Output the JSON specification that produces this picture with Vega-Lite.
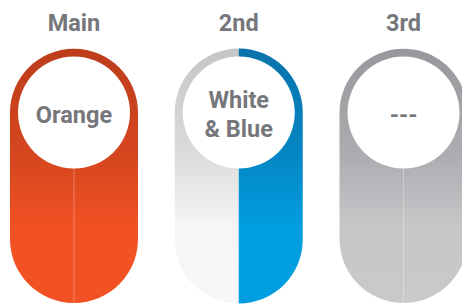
{
  "$schema": "https://vega.github.io/schema/vega-lite/v6.json",
  "width": 462,
  "height": 304,
  "autosize": {"type": "fit", "contains": "padding"},
  "padding": 0,
  "background": "white",
  "config": {"view": {"stroke": null}},
  "datasets": {
    "pills": [
      {"rank": "Main", "label": "Orange", "kind": "solid", "colour": "orange"},
      {"rank": "2nd", "label": "White\n& Blue", "kind": "split", "colour": "whiteblue"},
      {"rank": "3rd", "label": "---", "kind": "solid", "colour": "gray"}
    ],
    "halves": [
      {"rank": "2nd", "half": "left", "colour": "white"},
      {"rank": "2nd", "half": "right", "colour": "blue"}
    ]
  },
  "data": {"name": "pills"},
  "encoding": {
    "x": {
      "field": "rank",
      "type": "nominal",
      "sort": ["Main", "2nd", "3rd"],
      "scale": {"range": [-8.4, 485.9], "paddingInner": 0.223, "paddingOuter": 0.1115},
      "axis": null
    }
  },
  "layer": [
    {
      "transform": [{"filter": "datum.colour === 'orange'"}],
      "mark": {
        "type": "bar",
        "cornerRadius": 64,
        "color": {
          "gradient": "linear", "x1": 0, "y1": 0, "x2": 0, "y2": 1,
          "stops": [
            {"offset": 0, "color": "#bd3d1b"},
            {"offset": 0.42, "color": "#d5461f"},
            {"offset": 0.7, "color": "#f15123"},
            {"offset": 1, "color": "#f15123"}
          ]
        }
      },
      "encoding": {
        "y": {"datum": 100, "type": "quantitative", "scale": {"domain": [0, 119.2], "nice": false, "zero": false}, "axis": null},
        "y2": {"datum": 0}
      }
    },
    {
      "transform": [{"filter": "datum.colour === 'gray'"}],
      "mark": {
        "type": "bar",
        "cornerRadius": 64,
        "color": {
          "gradient": "linear", "x1": 0, "y1": 0, "x2": 0, "y2": 1,
          "stops": [
            {"offset": 0, "color": "#97989c"},
            {"offset": 0.42, "color": "#acadb0"},
            {"offset": 0.7, "color": "#c6c7c9"},
            {"offset": 1, "color": "#c8c9cb"}
          ]
        }
      },
      "encoding": {
        "y": {"datum": 100, "type": "quantitative"},
        "y2": {"datum": 0}
      }
    },
    {
      "data": {"name": "halves"},
      "transform": [{"filter": "datum.half === 'left'"}],
      "mark": {
        "type": "point",
        "filled": true,
        "opacity": 1,
        "strokeWidth": 0,
        "size": 16384,
        "shape": "M0,-1A1,1,0,0,0,-1,0L-1,1.984A1,1,0,0,0,0,2.984Z",
        "fill": {
          "gradient": "linear", "x1": 0, "y1": 0, "x2": 0, "y2": 1,
          "stops": [
            {"offset": 0, "color": "#c4c5c7"},
            {"offset": 0.42, "color": "#dcdcdd"},
            {"offset": 0.7, "color": "#f6f6f6"},
            {"offset": 1, "color": "#f7f7f7"}
          ]
        }
      },
      "encoding": {
        "y": {"datum": 74.9, "type": "quantitative"}
      }
    },
    {
      "data": {"name": "halves"},
      "transform": [{"filter": "datum.half === 'right'"}],
      "mark": {
        "type": "point",
        "filled": true,
        "opacity": 1,
        "strokeWidth": 0,
        "size": 16384,
        "shape": "M0,-1A1,1,0,0,1,1,0L1,1.984A1,1,0,0,1,0,2.984Z",
        "fill": {
          "gradient": "linear", "x1": 0, "y1": 0, "x2": 0, "y2": 1,
          "stops": [
            {"offset": 0, "color": "#0a72ab"},
            {"offset": 0.42, "color": "#0487c4"},
            {"offset": 0.7, "color": "#009ddf"},
            {"offset": 1, "color": "#009ee0"}
          ]
        }
      },
      "encoding": {
        "y": {"datum": 74.9, "type": "quantitative"}
      }
    },
    {
      "transform": [{"filter": "datum.kind === 'solid'"}],
      "mark": {"type": "rule", "color": "white", "opacity": 0.3, "strokeWidth": 1},
      "encoding": {
        "x": {"field": "rank", "type": "nominal", "sort": ["Main", "2nd", "3rd"], "bandPosition": 0.5},
        "y": {"datum": 75, "type": "quantitative"},
        "y2": {"datum": 0}
      }
    },
    {
      "mark": {"type": "point", "shape": "circle", "filled": true, "color": "white", "opacity": 1, "strokeWidth": 0, "size": 12544},
      "encoding": {
        "y": {"datum": 74.9, "type": "quantitative"}
      }
    },
    {
      "transform": [{"filter": "datum.kind === 'solid'"}],
      "mark": {"type": "text", "font": "Roboto", "fontWeight": "bold", "fontSize": 23.5, "color": "#76777b", "baseline": "alphabetic"},
      "encoding": {
        "y": {"datum": 71.0, "type": "quantitative"},
        "text": {"field": "label"}
      }
    },
    {
      "transform": [{"filter": "datum.kind === 'split'"}],
      "mark": {"type": "text", "font": "Roboto", "fontWeight": "bold", "fontSize": 23.5, "color": "#76777b", "baseline": "alphabetic", "lineBreak": "\n", "lineHeight": 29},
      "encoding": {
        "y": {"datum": 76.9, "type": "quantitative"},
        "text": {"field": "label"}
      }
    },
    {
      "mark": {"type": "text", "font": "Roboto", "fontWeight": "bold", "fontSize": 23.5, "color": "#76777b", "baseline": "alphabetic"},
      "encoding": {
        "y": {"datum": 106.9, "type": "quantitative"},
        "text": {"field": "rank"}
      }
    }
  ]
}
